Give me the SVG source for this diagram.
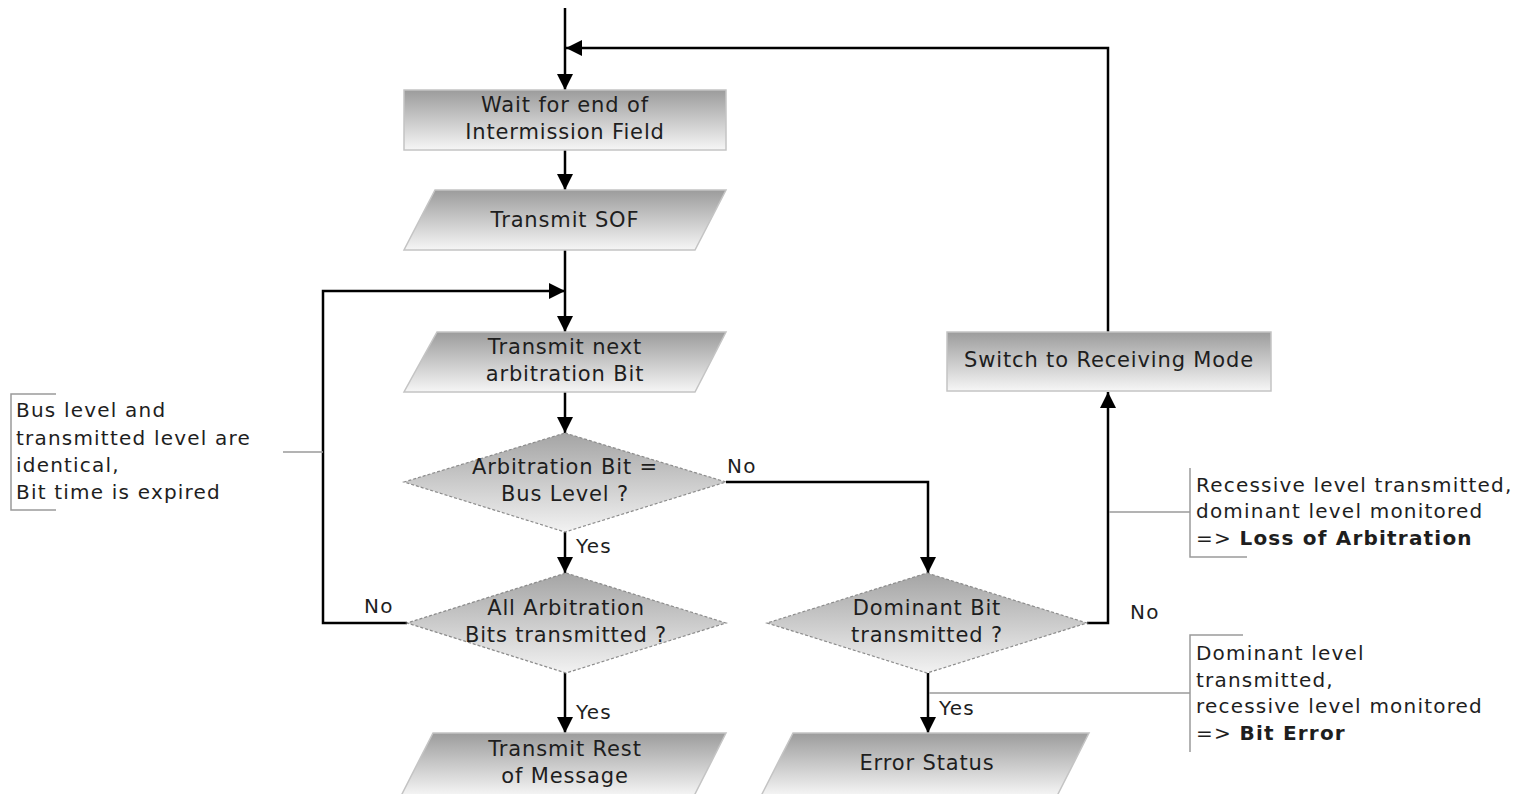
<svg xmlns="http://www.w3.org/2000/svg" width="1516" height="794" viewBox="0 0 1516 794">
<defs>
<linearGradient id="gBox" x1="0" y1="0" x2="0" y2="1">
<stop offset="0" stop-color="#9c9c9c"/>
<stop offset="1" stop-color="#f6f6f6"/>
</linearGradient>
<linearGradient id="gDia" x1="0" y1="0" x2="0" y2="1">
<stop offset="0" stop-color="#a4a4a4"/>
<stop offset="1" stop-color="#f2f2f2"/>
</linearGradient>
<marker id="arr" markerUnits="userSpaceOnUse" markerWidth="18" markerHeight="16" refX="16" refY="8" orient="auto">
<path d="M0,0 L16,8 L0,16 z" fill="#000"/>
</marker>
<style>
.box{fill:url(#gBox);stroke:#c4c4c4;stroke-width:1.5}
.dia{fill:url(#gDia);stroke:#8c8c8c;stroke-width:1.2;stroke-dasharray:3 2}
.t{font-family:"DejaVu Sans",Verdana,sans-serif;font-size:21px;letter-spacing:0.85px;fill:#1e1e1e;text-anchor:middle}
.l{font-family:"DejaVu Sans",Verdana,sans-serif;font-size:20px;letter-spacing:1.2px;fill:#1e1e1e}
.a{font-family:"DejaVu Sans",Verdana,sans-serif;font-size:20px;letter-spacing:1.2px;fill:#1e1e1e}
.b{font-weight:bold}
.c{fill:none;stroke:#000;stroke-width:2.5}
.ca{fill:none;stroke:#000;stroke-width:2.5;marker-end:url(#arr)}
.n{fill:none;stroke:#9a9a9a;stroke-width:1.5}
</style>
</defs>
<rect width="1516" height="794" fill="#fff"/>

<g id="connectors">
<path class="ca" d="M565,8 V90"/>
<path class="ca" d="M1108,332 V48 H566"/>
<path class="ca" d="M565,150 V190"/>
<path class="ca" d="M565,250 V332"/>
<path class="ca" d="M407,623 H323 V291 H565"/>
<path class="ca" d="M565,392 V433"/>
<path class="ca" d="M565,532 V573"/>
<path class="ca" d="M565,673 V733"/>
<path class="ca" d="M726,482 H928 V573"/>
<path class="ca" d="M928,673 V733"/>
<path class="ca" d="M1087,623 H1108 V392"/>
<text class="l" x="727" y="473">No</text>
<text class="l" x="576" y="553">Yes</text>
<text class="l" x="364" y="613">No</text>
<text class="l" x="576" y="719">Yes</text>
<text class="l" x="1130" y="619">No</text>
<text class="l" x="939" y="715">Yes</text>
</g>

<g id="n-wait">
<rect class="box" x="404" y="90" width="322" height="60"/>
<text class="t" x="565" y="112">Wait for end of</text>
<text class="t" x="565" y="139">Intermission Field</text>
</g>

<g id="n-sof">
<polygon class="box" points="435,190 726,190 695,250 404,250"/>
<text class="t" x="565" y="227">Transmit SOF</text>
</g>

<g id="n-next">
<polygon class="box" points="437,332 726,332 695,392 404,392"/>
<text class="t" x="565" y="354">Transmit next</text>
<text class="t" x="565" y="381">arbitration Bit</text>
</g>

<g id="n-d1">
<polygon class="dia" points="565,433 726,482 565,532 404,482"/>
<text class="t" x="565" y="474">Arbitration Bit =</text>
<text class="t" x="565" y="501">Bus Level ?</text>
</g>

<g id="n-d2">
<polygon class="dia" points="566,573 726,623 566,673 407,623"/>
<text class="t" x="566" y="615">All Arbitration</text>
<text class="t" x="566" y="642">Bits transmitted ?</text>
</g>

<g id="n-rest">
<polygon class="box" points="433,733 726,733 694,796 401,796"/>
<text class="t" x="565" y="756">Transmit Rest</text>
<text class="t" x="565" y="783">of Message</text>
</g>

<g id="n-d3">
<polygon class="dia" points="927,573 1087,623 927,673 767,623"/>
<text class="t" x="927" y="615">Dominant Bit</text>
<text class="t" x="927" y="642">transmitted ?</text>
</g>

<g id="n-error">
<polygon class="box" points="793,733 1089,733 1057,796 761,796"/>
<text class="t" x="927" y="770">Error Status</text>
</g>

<g id="n-switch">
<rect class="box" x="947" y="332" width="324" height="59"/>
<text class="t" x="1109" y="367">Switch to Receiving Mode</text>
</g>

<g id="note-left">
<path class="n" d="M283,452 H323"/>
<path class="n" d="M56,394 H11 V510 H56"/>
<text class="a" x="16" y="417">Bus level and</text>
<text class="a" x="16" y="445">transmitted level are</text>
<text class="a" x="16" y="472">identical,</text>
<text class="a" x="16" y="499">Bit time is expired</text>
</g>

<g id="note-loss">
<path class="n" d="M1109,512 H1190"/>
<path class="n" d="M1190,468 V557 H1247"/>
<text class="a" x="1196" y="492">Recessive level transmitted,</text>
<text class="a" x="1196" y="518">dominant level monitored</text>
<text class="a" x="1196" y="545">=&gt; <tspan class="b">Loss of Arbitration</tspan></text>
</g>

<g id="note-biterror">
<path class="n" d="M929,693 H1190"/>
<path class="n" d="M1243,635 H1190 V752"/>
<text class="a" x="1196" y="660">Dominant level</text>
<text class="a" x="1196" y="687">transmitted,</text>
<text class="a" x="1196" y="713">recessive level monitored</text>
<text class="a" x="1196" y="740">=&gt; <tspan class="b">Bit Error</tspan></text>
</g>
</svg>
